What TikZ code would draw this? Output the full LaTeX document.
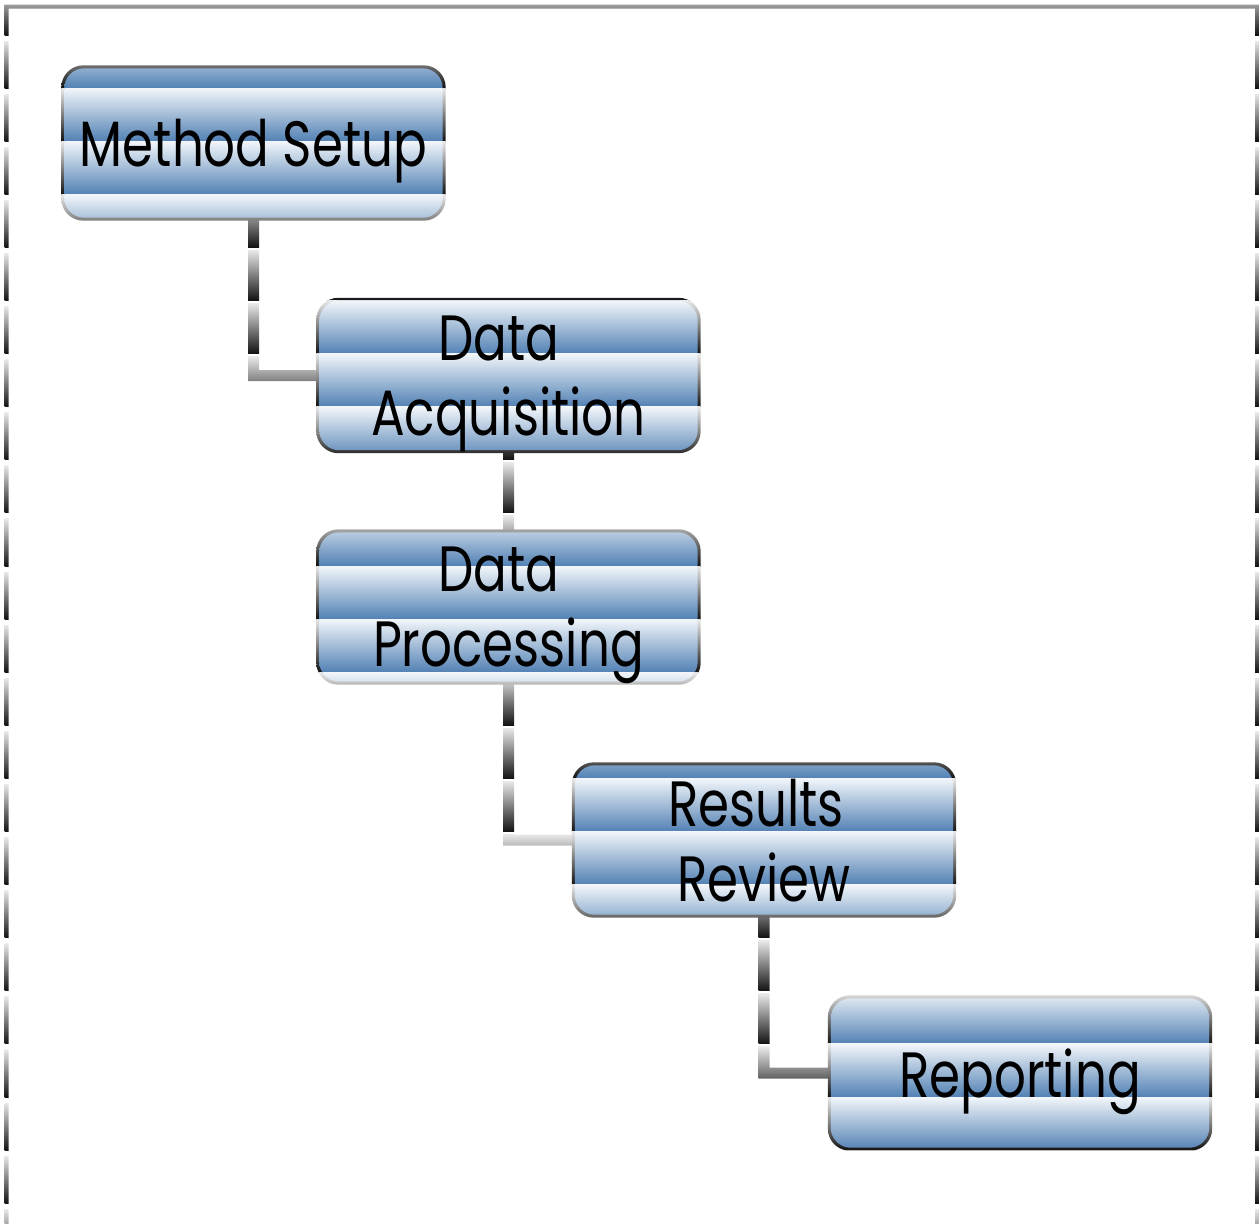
\documentclass[tikz,border=0pt]{standalone}
\usepackage{fontspec}
\setmainfont{Poppins}
\newfontfamily\stagefont[FakeStretch=0.78]{Poppins}
\usetikzlibrary{calc,backgrounds}

\definecolor{bluelight}{HTML}{F2F6FA}
\definecolor{bluedark}{HTML}{5281B4}
\definecolor{graylight}{HTML}{E8E8E8}
\definecolor{graydark}{HTML}{121212}

\tikzset{
  stage/.style={minimum width=381pt, minimum height=152pt, inner sep=0pt,
    align=center, text=black, text depth=0pt,
    font=\stagefont\fontsize{64}{75}\selectfont},
}

% horizontal gradient bands, global period 53.1
\newcommand\paintbands[3]{%
  \foreach \k in {-1,...,22}{%
    \pgfmathsetmacro\ya{35+53.1*\k+#3}%
    \pgfmathsetmacro\yb{35+53.1*(\k+1)}%
    \shade[top color=#1,bottom color=#2] (0,\ya) rectangle (1259,\yb);
  }}

\newcommand\stagefill[1]{%
  \begin{scope}
    \clip[rounded corners=22pt] ($(#1.north west)+(-1.5,-1.5)$) rectangle ($(#1.south east)+(1.5,1.5)$);
    \paintbands{graylight}{graydark}{0}
  \end{scope}
  \begin{scope}
    \clip[rounded corners=20pt] ($(#1.north west)+(1.5,1.5)$) rectangle ($(#1.south east)+(-1.5,-1.5)$);
    \paintbands{bluelight}{bluedark}{0}
  \end{scope}}

\newcommand\elbowlink[2]{%
  \begin{scope}
    \clip ($(#1.south)+(-5.5,0)$) rectangle ($(#1.south |- #2.west)+(5.5,5.5)$)
          ($(#1.south |- #2.west)+(-5.5,-5.5)$) rectangle ($(#2.west)+(0,5.5)$);
    \paintbands{graylight}{graydark}{3}
  \end{scope}}

\newcommand\straightlink[2]{%
  \begin{scope}
    \clip ($(#1.south)+(-5.5,0)$) rectangle ($(#2.north)+(5.5,0)$);
    \paintbands{graylight}{graydark}{3}
  \end{scope}}

\begin{document}
\begin{tikzpicture}[x=1pt,y=-1pt]
  \useasboundingbox (0,0) rectangle (1259,1224);

  \node[stage] (ms) at (253.5,143)  {Method Setup};
  \node[stage] (da) at (508.5,375.5) {Data\hspace{20pt}\mbox{}\\Acquisition};
  \node[stage] (dp) at (508.5,607)  {Data\hspace{20pt}\mbox{}\\Processing};
  \node[stage] (rr) at (764,840)    {Results\hspace{16pt}\mbox{}\\Review};
  \node[stage] (rp) at (1020,1073)  {Reporting};

  \begin{pgfonlayer}{background}
    % frame
    \begin{scope}
      \clip (4.5,4.5) rectangle (1259,8.5)
            (4.5,4.5) rectangle (8.5,1224)
            (1255,4.5) rectangle (1259,1224);
      \paintbands{graylight}{graydark}{6}
    \end{scope}
    % connectors
    \elbowlink{ms}{da}
    \straightlink{da}{dp}
    \elbowlink{dp}{rr}
    \elbowlink{rr}{rp}
    % boxes
    \stagefill{ms}
    \stagefill{da}
    \stagefill{dp}
    \stagefill{rr}
    \stagefill{rp}
  \end{pgfonlayer}
\end{tikzpicture}
\end{document}
